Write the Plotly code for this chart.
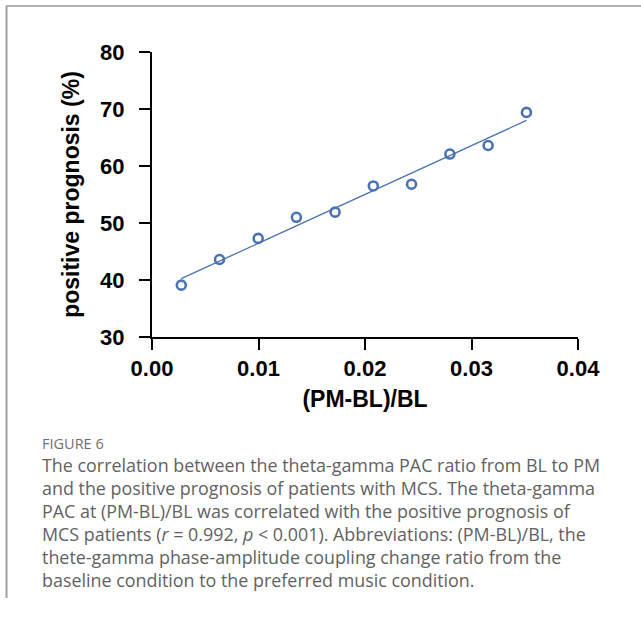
import numpy as np
import plotly.graph_objects as go

# Data
pac_change_ratio = [0.00275, 0.00634, 0.00997, 0.01356, 0.01719, 0.02078, 0.02437, 0.02797, 0.03156, 0.03516]
positive_prognosis = [39.1, 43.6, 47.3, 51.0, 51.9, 56.5, 56.8, 62.1, 63.6, 69.4]

x_ticks = [0.00, 0.01, 0.02, 0.03, 0.04]
y_ticks = [30, 40, 50, 60, 70, 80]

caption_title = "FIGURE 6"
caption_lines = [
    "The correlation between the theta-gamma PAC ratio from BL to PM",
    "and the positive prognosis of patients with MCS. The theta-gamma",
    "PAC at (PM-BL)/BL was correlated with the positive prognosis of",
    "MCS patients (<i>r</i> = 0.992, <i>p</i> &lt; 0.001). Abbreviations: (PM-BL)/BL, the",
    "thete-gamma phase-amplitude coupling change ratio from the",
    "baseline condition to the preferred music condition.",
]

x = np.array(pac_change_ratio)
y = np.array(positive_prognosis)
slope, intercept = np.polyfit(x, y, 1)
fit_x = np.array([x.min(), x.max()])
fit_y = slope * fit_x + intercept

blue = "#4a72b0"

fig = go.Figure()
fig.add_trace(go.Scatter(x=fit_x, y=fit_y, mode="lines",
                         line=dict(color=blue, width=1.3), showlegend=False, hoverinfo="skip"))
fig.add_trace(go.Scatter(x=x, y=y, mode="markers",
                         marker=dict(symbol="circle-open", size=9, color=blue,
                                     line=dict(color=blue, width=2.6)),
                         showlegend=False))

W, H = 641, 619
ml, mr, mt, mb = 152, 63, 52, 282

axis_font = dict(family="Liberation Sans, Arial, sans-serif", size=22, color="black", weight="bold")
title_font = dict(family="Liberation Sans, Arial, sans-serif", size=23, color="black", weight="bold")

fig.update_xaxes(range=[0, 0.04], tickvals=x_ticks, ticktext=[f"{v:.2f}" for v in x_ticks],
                 showline=True, linecolor="black", linewidth=2, mirror=False,
                 ticks="outside", ticklen=11, tickwidth=2, tickcolor="black",
                 showgrid=False, zeroline=False,
                 tickfont=axis_font,
                 title=dict(text="(PM-BL)/BL", font=title_font, standoff=10))
fig.update_yaxes(range=[30, 80], tickvals=y_ticks, ticktext=[str(v) for v in y_ticks],
                 showline=True, linecolor="black", linewidth=2, mirror=False,
                 ticks="outside", ticklen=11, tickwidth=2, tickcolor="black",
                 showgrid=False, zeroline=False, ticklabelstandoff=10,
                 tickfont=axis_font,
                 title=dict(text="positive prognosis (%)", font=title_font, standoff=14))

annotations = []
cap_font = "Open Sans, Noto Sans, sans-serif"
annotations.append(dict(text=caption_title, xref="paper", yref="paper",
                        x=(40 - ml) / (W - ml - mr), y=(H - mb - 443) / (H - mt - mb),
                        xanchor="left", yanchor="middle", showarrow=False,
                        font=dict(family=cap_font, size=14.5, color="#707070")))
line_y0 = 465
for i, ln in enumerate(caption_lines):
    yc = line_y0 + 23 * i
    annotations.append(dict(text=ln, xref="paper", yref="paper",
                            x=(40 - ml) / (W - ml - mr), y=(H - mb - yc) / (H - mt - mb),
                            xanchor="left", yanchor="middle", showarrow=False,
                            font=dict(family=cap_font, size=17.9, color="#626262")))

shapes = [
    dict(type="line", xref="paper", yref="paper",
         x0=(6 - ml) / (W - ml - mr), x1=(W + 5 - ml) / (W - ml - mr),
         y0=(H - mb - 6) / (H - mt - mb), y1=(H - mb - 6) / (H - mt - mb),
         line=dict(color="#b0b0b0", width=2)),
    dict(type="line", xref="paper", yref="paper",
         x0=(6.5 - ml) / (W - ml - mr), x1=(6.5 - ml) / (W - ml - mr),
         y0=(H - mb - 6) / (H - mt - mb), y1=(H - mb - 598) / (H - mt - mb),
         line=dict(color="#a0a0a0", width=2)),
]

fig.update_layout(width=W, height=H, margin=dict(l=ml, r=mr, t=mt, b=mb, autoexpand=False),
                  plot_bgcolor="white", paper_bgcolor="white",
                  annotations=annotations, shapes=shapes)

fig.write_html("out.html")
